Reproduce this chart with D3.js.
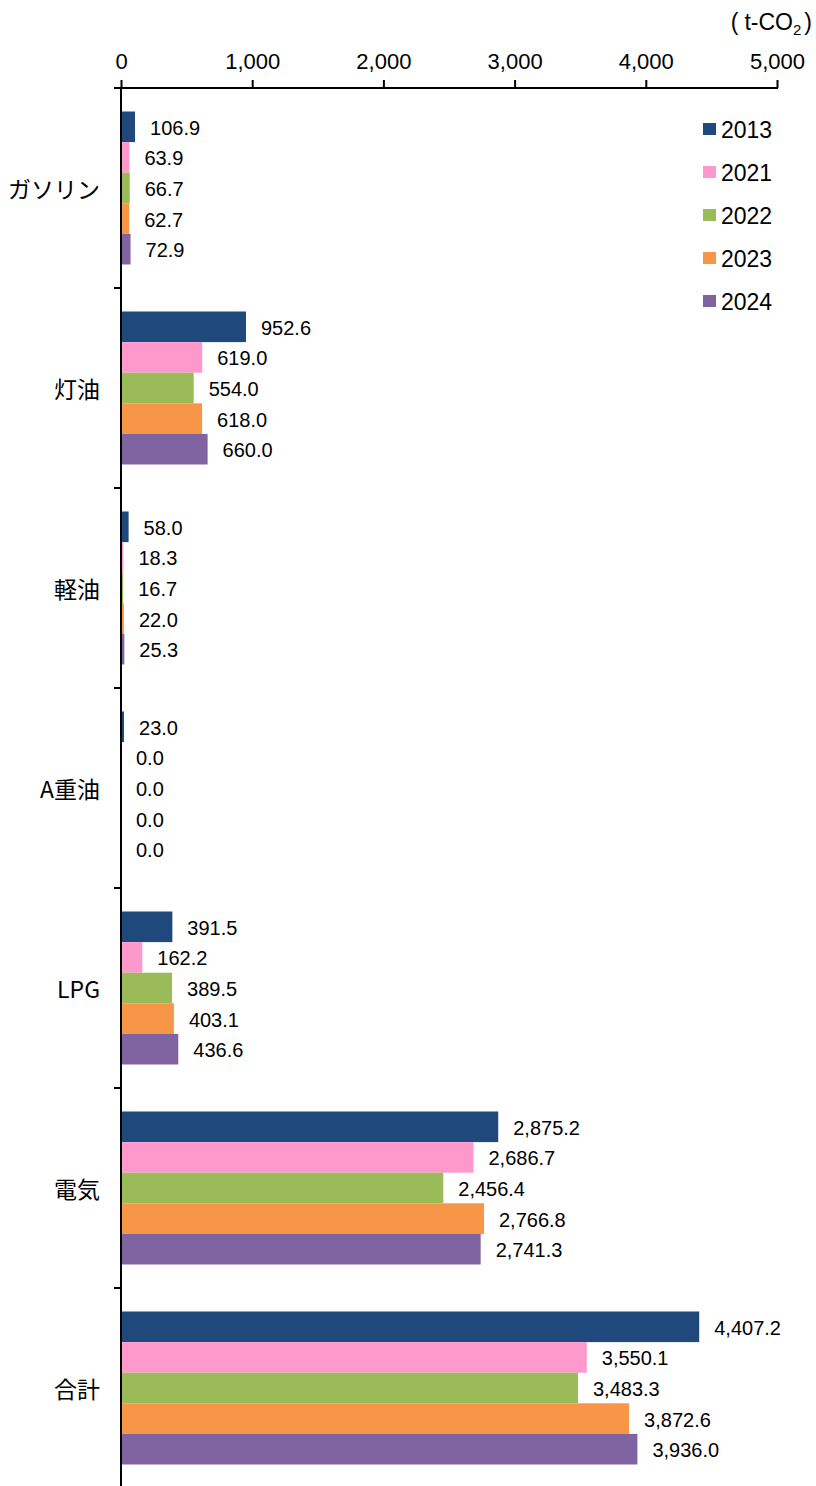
<!DOCTYPE html>
<html>
<head>
<meta charset="utf-8">
<script src="https://cdn.jsdelivr.net/npm/d3@7"></script>
<style>
  html, body { margin: 0; padding: 0; background: #fff; }
  svg text { font-family: "Liberation Sans", Arial, "Noto Sans CJK JP", sans-serif; fill: #000; }
  .cjk { font-family: "Noto Sans CJK JP", "Liberation Sans", sans-serif; }
</style>
</head>
<body>
<svg id="chart" width="816" height="1486"></svg>
<script>
// Energy-source categories and emission values (t-CO2) per year
const categories = ["ガソリン", "灯油", "軽油", "A重油", "LPG", "電気", "合計"];
const years = ["2013", "2021", "2022", "2023", "2024"];
const v2013 = [106.9, 952.6, 58.0, 23.0, 391.5, 2875.2, 4407.2];
const v2021 = [63.9, 619.0, 18.3, 0.0, 162.2, 2686.7, 3550.1];
const v2022 = [66.7, 554.0, 16.7, 0.0, 389.5, 2456.4, 3483.3];
const v2023 = [62.7, 618.0, 22.0, 0.0, 403.1, 2766.8, 3872.6];
const v2024 = [72.9, 660.0, 25.3, 0.0, 436.6, 2741.3, 3936.0];
const seriesValues = [v2013, v2021, v2022, v2023, v2024];
const colors = ["#1F497D", "#FF99CC", "#9BBB59", "#F79646", "#8064A2"];
const xTicks = [0, 1000, 2000, 3000, 4000, 5000];
const unitLabel = "t-CO";

const svg = d3.select("#chart");
const mLeft = 121, mRight = 777, mTop = 88, mBottom = 1488;

const x = d3.scaleLinear().domain([0, 5000]).range([mLeft, mRight]);
const y = d3.scaleBand().domain(categories).range([mTop, mBottom])
  .paddingInner(0.235).paddingOuter(0.1175);
const yInner = d3.scaleBand().domain(years).range([0, y.bandwidth()]);

const rows = categories.map((c, i) => ({
  cat: c,
  vals: years.map((yr, j) => ({ year: yr, value: seriesValues[j][i], color: colors[j] }))
}));

const fmt = d3.format(",.1f");

// Bars
const groups = svg.append("g").selectAll("g").data(rows).join("g")
  .attr("transform", d => `translate(0,${y(d.cat)})`);

groups.selectAll("rect").data(d => d.vals).join("rect")
  .attr("x", x(0))
  .attr("y", d => yInner(d.year))
  .attr("width", d => x(d.value) - x(0))
  .attr("height", yInner.bandwidth())
  .attr("fill", d => d.color);

// Value labels
groups.selectAll("text").data(d => d.vals).join("text")
  .attr("x", d => x(d.value) + 15)
  .attr("y", d => yInner(d.year) + yInner.bandwidth() / 2 + 1)
  .attr("dominant-baseline", "central")
  .attr("font-size", 20)
  .text(d => fmt(d.value));

// Top value axis
const xAxis = d3.axisTop(x).tickValues(xTicks).tickFormat(d3.format(",")).tickSize(8).tickPadding(11);
const gx = svg.append("g").attr("transform", `translate(0,${mTop})`).call(xAxis);
gx.select(".domain").remove();
gx.selectAll(".tick line").attr("stroke", "#000").attr("stroke-width", 2);
gx.selectAll(".tick text").attr("font-size", 22).attr("font-family", "'Liberation Sans', Arial, sans-serif").attr("fill", "#000");
svg.append("line").attr("x1", mLeft - 7).attr("x2", mRight + 1).attr("y1", mTop).attr("y2", mTop)
  .attr("stroke", "#000").attr("stroke-width", 2);

// Left category axis
const boundaries = categories.slice(1).map(c => y(c) - y.step() * y.paddingInner() / 2);
svg.append("line").attr("x1", mLeft).attr("x2", mLeft).attr("y1", mTop).attr("y2", 1486)
  .attr("stroke", "#000").attr("stroke-width", 2);
svg.append("g").selectAll("line").data(boundaries).join("line")
  .attr("x1", mLeft - 7).attr("x2", mLeft).attr("y1", d => d).attr("y2", d => d)
  .attr("stroke", "#000").attr("stroke-width", 2);

svg.append("g").selectAll("text").data(categories).join("text")
  .attr("class", "cjk")
  .attr("x", 100)
  .attr("y", d => y(d) + y.bandwidth() / 2)
  .attr("text-anchor", "end")
  .attr("dominant-baseline", "central")
  .attr("font-size", 23)
  .text(d => d);

// Unit label
const unit = svg.append("text").attr("x", 812).attr("y", 30).attr("text-anchor", "end").attr("font-size", 23);
unit.append("tspan").text("(");
unit.append("tspan").attr("dx", 6).text(unitLabel);
unit.append("tspan").attr("font-size", 15).attr("dy", 5).text("2");
unit.append("tspan").attr("dy", -5).attr("dx", 3).text(")");

// Legend
const legend = svg.append("g").selectAll("g").data(years).join("g")
  .attr("transform", (d, i) => `translate(703,${129 + i * 43})`);
legend.append("rect").attr("x", 0).attr("y", -6).attr("width", 13).attr("height", 12)
  .attr("fill", (d, i) => colors[i]);
legend.append("text").attr("x", 18).attr("y", 1).attr("dominant-baseline", "central")
  .attr("font-size", 23).text(d => d);
</script>
</body>
</html>
